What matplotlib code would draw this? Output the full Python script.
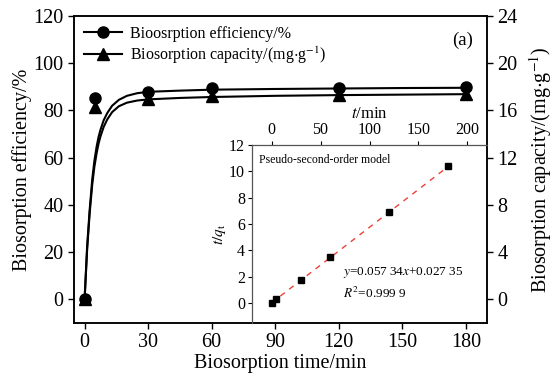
import matplotlib
matplotlib.use('Agg')
import matplotlib.pyplot as plt
import numpy as np

plt.rcParams['font.family'] = ['Liberation Serif', 'DejaVu Serif']
plt.rcParams['mathtext.fontset'] = 'stix'

# measured data
t_pts = [0, 5, 30, 60, 120, 180]
eff_pts = [0, 85.2, 88.0, 89.4, 89.5, 89.9]           # %
cap_pts = [0, 16.3, 16.96, 17.26, 17.32, 17.38]       # mg/g

# fitted curves
t_fit = [0, 1.2, 2.4, 3.6, 4.6, 5.7, 6.6, 7.5, 9, 10.7, 13, 16.2, 20, 24.8, 30, 45, 60, 90, 120, 150, 180]
eff_fit = [0, 22.5, 38.0, 50.7, 58.5, 64.8, 68.8, 71.8, 75.8, 78.9, 82.0, 84.5, 86.2, 87.3, 87.9,
           88.4, 88.8, 89.1, 89.3, 89.5, 89.6]
cap_fit = [0, 4.2, 7.3, 9.7, 11.2, 12.4, 13.2, 13.8, 14.6, 15.24, 15.86, 16.36, 16.66, 16.84, 16.94,
           17.06, 17.14, 17.24, 17.30, 17.34, 17.38]

# inset: t/qt vs t
t_ins = [0, 5, 30, 60, 120, 180]
tq_ins = [0, 0.33, 1.76, 3.5, 6.93, 10.4]
slope, intercept = 0.05734, 0.02735

fig = plt.figure(figsize=(5.57, 3.78), dpi=100)
ax = fig.add_axes([74/557, 1 - 323/378, (487 - 74)/557, (323 - 16)/378])
ax2 = ax.twinx()

ax.plot(t_fit, eff_fit, color='black', lw=1.5)
ax2.plot(t_fit, cap_fit, color='black', lw=1.5)
ax.plot(t_pts, eff_pts, color='black', marker='o', ms=8, linestyle='none')
ax2.plot(t_pts, cap_pts, color='black', marker='^', ms=8, linestyle='none')

ax.set_xlim(-5, 190)
ax.set_ylim(-10, 120)
ax2.set_ylim(-2, 24)
ax.set_xticks([0, 30, 60, 90, 120, 150, 180])
ax.set_yticks([0, 20, 40, 60, 80, 100, 120])
ax2.set_yticks([0, 4, 8, 12, 16, 20, 24])
for a in (ax, ax2):
    a.tick_params(direction='out', length=4, width=1, labelsize=14.5)
    for s in a.spines.values():
        s.set_linewidth(1.1)
ax.set_xlabel('Biosorption time/min', fontsize=14.5, labelpad=1)
ax.set_ylabel('Biosorption efficiency/%', fontsize=14.5, labelpad=1)
ax2.set_ylabel('Biosorption capacity/(mg$\\cdot$g$^{-1}$)', fontsize=14.5, labelpad=7)

h1 = plt.Line2D([], [], color='black', lw=1.5, marker='o', ms=8)
h2 = plt.Line2D([], [], color='black', lw=1.5, marker='^', ms=8)
ax.legend([h1, h2], ['Bioosrption efficiency/%', 'Biosorption capacity/(mg$\\cdot$g$^{-1}$)'],
          loc='upper left', bbox_to_anchor=(0.0, 1.0), frameon=False, fontsize=11.5,
          handlelength=2.4, handletextpad=0.5, labelspacing=0.2, borderaxespad=0.2)
ax.text(0.965, 0.92, '(a)', transform=ax.transAxes, fontsize=13.5, ha='right', va='center')

# inset
ins = fig.add_axes([252/557, 1 - 323/378, (487 - 252)/557, (323 - 145)/378])
ins.patch.set_alpha(0)
ins.plot(t_ins, tq_ins, marker='s', ms=5, color='black', linestyle='none', zorder=3)
tl = np.array([t_ins[0], t_ins[-1]])
ins.plot(tl, slope*tl + intercept, color='#e8403a', lw=1, dashes=(4, 4), zorder=2)
ins.set_xlim(-20, 220)
ins.set_ylim(-1.5, 12)
ins.xaxis.tick_top()
ins.xaxis.set_label_position('top')
ins.set_xticks([0, 50, 100, 150, 200])
ins.set_yticks([0, 2, 4, 6, 8, 10, 12])
ins.tick_params(direction='out', length=3, width=0.8, labelsize=11.5, pad=2)
ins.spines['bottom'].set_visible(False)
ins.spines['right'].set_visible(False)
for s in ('top', 'left'):
    ins.spines[s].set_color('#555555')
    ins.spines[s].set_linewidth(0.9)
ins.set_xlabel('$t$/min', fontsize=12, labelpad=3)
ins.set_ylabel('$t/q_{\\rm t}$', fontsize=11, labelpad=1)
ins.text(0.03, 0.95, 'Pseudo-second-order model', transform=ins.transAxes, fontsize=8.5, va='top')
ins.text(73, 2.36, '$y$=0.057 34$x$+0.027 35', fontsize=9.5, va='center')
ins.text(73, 0.76, '$R^2$=0.999 9', fontsize=9.5, va='center')

fig.savefig('out.png', dpi=100)
